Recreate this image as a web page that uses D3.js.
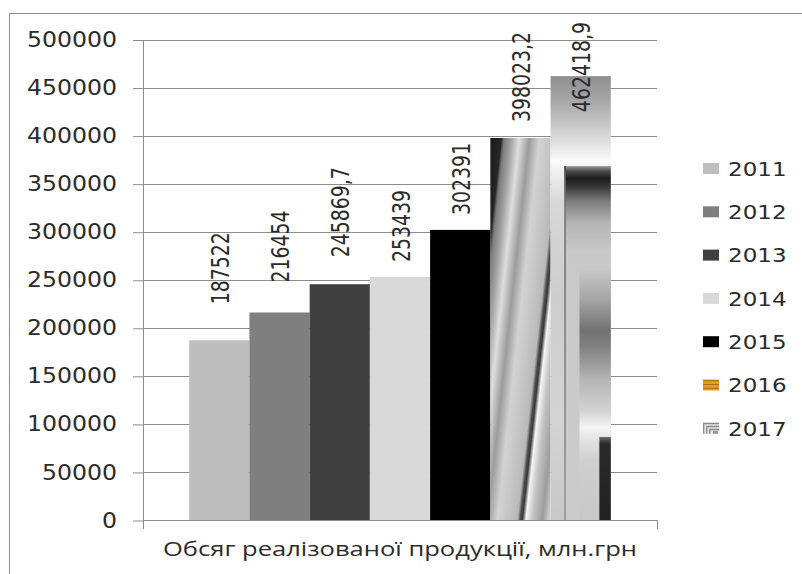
<!DOCTYPE html>
<html>
<head>
<meta charset="utf-8">
<script src="https://cdn.jsdelivr.net/npm/d3@7"></script>
<style>
  html, body { margin: 0; padding: 0; background: #fff; }
  svg { display: block; }
</style>
</head>
<body>
<svg id="chart" width="802" height="574"></svg>
<script>
// ---- data ----
const category = "Обсяг реалізованої продукції, млн.грн";
const years = ["2011", "2012", "2013", "2014", "2015", "2016", "2017"];
const values = [187522, 216454, 245869.7, 253439, 302391, 398023.2, 462418.9];
const yTicks = [0, 50000, 100000, 150000, 200000, 250000, 300000, 350000, 400000, 450000, 500000];

// ---- layout ----
const W = 802, H = 574;
const plot = { left: 143, right: 657, top: 40, bottom: 520.5 };
const stretchX = 1.15;                       // wide text look
const labelGap = [36, 30, 27, 15, 15, 16, 15]; // distance of value labels above bars
const labelTopLimit = 22;
const textColor = "#2b2b2b";
const lineColor = "#8c8c8c";

const svg = d3.select("#chart");
svg.append("rect").attr("width", W).attr("height", H).attr("fill", "#fff");

// outer frame (top and left edges)
svg.append("path")
  .attr("d", "M9.5,574V13.5H802")
  .attr("fill", "none").attr("stroke", lineColor).attr("stroke-width", 1);

const y = d3.scaleLinear().domain([0, 500000]).range([plot.bottom, plot.top]);
const x0 = d3.scaleBand().domain([category]).range([plot.left, plot.right]);
const x = d3.scaleBand().domain(years)
  .range([x0(category), x0(category) + x0.bandwidth()])
  .paddingInner(0).paddingOuter(0.767);

const defs = svg.append("defs");

// ---- fills ----
// 2016: slanted metallic bands
function addSlantGradient(id, bx, y0) {
  const slope = 0.11, span = 102, start = -42;
  const k = span / (1 + slope * slope);
  const g = defs.append("linearGradient").attr("id", id)
    .attr("gradientUnits", "userSpaceOnUse")
    .attr("x1", bx + start).attr("y1", y0)
    .attr("x2", bx + start + k).attr("y2", y0 + k * slope);
  const stops = [
    [-42, "#1a1a1a"], [-31, "#262626"], [-29.5, "#5a5a5a"], [-28, "#7c7c7c"],
    [-21, "#a4a4a4"], [-13, "#dedede"], [-3, "#9c9c9c"], [7, "#d2d2d2"],
    [17, "#c6c6c6"], [27, "#b8b8b8"], [30, "#4a4a4a"], [32, "#3a3a3a"],
    [35.5, "#f6f6f6"], [42, "#c4c4c4"], [52, "#9c9c9c"], [60, "#d8d8d8"]
  ];
  stops.forEach(([r, c]) => g.append("stop")
    .attr("offset", (r - start) / span).attr("stop-color", c));
}

// 2017: layered vertical gradients, given in fractions of the bar box
const tex2017 = [
  { fx0: 0, fx1: 1, fy0: 0, fy1: 1, stops: [
    [0, "#8e8e8e"], [0.054, "#a6a6a6"], [0.144, "#dcdcdc"], [0.19, "#fbfbfb"],
    [0.21, "#f2f2f2"], [0.28, "#d8d8d8"], [0.5, "#cdcdcd"], [0.77, "#d4d4d4"], [1, "#c8c8c8"] ] },
  { fx0: 0.25, fx1: 1, fy0: 0.2025, fy1: 1, stops: [
    [0, "#9a9a9a"], [0.015, "#4a4a4a"], [0.035, "#1c1c1c"], [0.055, "#333333"],
    [0.1, "#7e7e7e"], [0.16, "#b4b4b4"], [0.24, "#c8c8c8"], [1, "#cccccc"] ] },
  { fx0: 0.225, fx1: 0.255, fy0: 0.2025, fy1: 1, stops: [
    [0, "#4a4a4a"], [0.12, "#7a7a7a"], [1, "#9a9a9a"] ] },
  { fx0: 0.48, fx1: 1, fy0: 0.436, fy1: 1, stops: [
    [0, "#c8c8c8"], [0.12, "#a4a4a4"], [0.24, "#727272"], [0.3, "#7e7e7e"],
    [0.44, "#b6b6b6"], [0.56, "#d2d2d2"], [0.63, "#f4f4f4"], [0.66, "#e8e8e8"],
    [0.76, "#cfcfcf"], [1, "#c8c8c8"] ] },
  { fx0: 0.81, fx1: 1, fy0: 0.812, fy1: 1, stops: [
    [0, "#6a6a6a"], [0.08, "#2a2a2a"], [1, "#222222"] ] }
];
tex2017.forEach((t, i) => {
  const g = defs.append("linearGradient").attr("id", "tex2017-" + i)
    .attr("x1", 0).attr("y1", 0).attr("x2", 0).attr("y2", 1);
  t.stops.forEach(([o, c]) => g.append("stop").attr("offset", o).attr("stop-color", c));
});

// legend swatch for 2016: orange stripes
const pat16 = defs.append("pattern").attr("id", "legend2016")
  .attr("patternUnits", "userSpaceOnUse").attr("width", 4).attr("height", 3.7);
pat16.append("rect").attr("width", 4).attr("height", 3.7).attr("fill", "#e6a21c");
pat16.append("rect").attr("y", 2.7).attr("width", 4).attr("height", 1).attr("fill", "#a66d10");

const solidFills = ["#bebebe", "#7f7f7f", "#404040", "#d9d9d9", "#000000"];

// ---- gridlines ----
svg.append("g").selectAll("line")
  .data(yTicks.filter(d => d > 0))
  .join("line")
  .attr("x1", plot.left).attr("x2", plot.right)
  .attr("y1", d => Math.round(y(d)) + 0.5).attr("y2", d => Math.round(y(d)) + 0.5)
  .attr("stroke", lineColor).attr("stroke-width", 1);

// ---- bars ----
const barsG = svg.append("g");
years.forEach((yr, i) => {
  const bx = x(yr), bw = x.bandwidth();
  const top = y(values[i]), h = y(0) - top;
  if (i < 5) {
    barsG.append("rect").attr("x", bx).attr("y", top).attr("width", bw).attr("height", h)
      .attr("fill", solidFills[i]);
  } else if (yr === "2016") {
    addSlantGradient("grad2016", bx, y(0));
    barsG.append("rect").attr("x", bx).attr("y", top).attr("width", bw).attr("height", h)
      .attr("fill", "url(#grad2016)");
  } else {
    const gg = barsG.append("g");
    tex2017.forEach((t, k) => {
      gg.append("rect")
        .attr("x", bx + t.fx0 * bw).attr("width", (t.fx1 - t.fx0) * bw)
        .attr("y", top + t.fy0 * h).attr("height", (t.fy1 - t.fy0) * h)
        .attr("fill", `url(#tex2017-${k})`);
    });
  }
});

// ---- axes ----
const yAxis = d3.axisLeft(y).tickValues(yTicks).tickFormat(d3.format("d"))
  .tickSizeInner(10).tickSizeOuter(0).tickPadding(16);
const yg = svg.append("g").attr("transform", `translate(${plot.left},0)`).call(yAxis);
yg.selectAll("path, line").attr("stroke", lineColor);
yg.selectAll("text")
  .attr("font-family", "'DejaVu Sans', Verdana, sans-serif")
  .attr("font-size", 20.5).attr("fill", textColor);

const xAxis = d3.axisBottom(x0).tickSizeInner(0).tickSizeOuter(9).tickPadding(22);
const xg = svg.append("g").attr("transform", `translate(0,${Math.floor(plot.bottom)})`).call(xAxis);
xg.selectAll("path, line").attr("stroke", lineColor);
xg.selectAll("text")
  .attr("font-family", "'Open Sans', 'DejaVu Sans', sans-serif")
  .attr("font-size", 20).attr("fill", textColor)
  .attr("textLength", 474).attr("lengthAdjust", "spacingAndGlyphs");

// widen horizontal labels
function widen(sel) {
  sel.each(function () {
    const w = this.getComputedTextLength();
    d3.select(this).attr("textLength", w * stretchX).attr("lengthAdjust", "spacingAndGlyphs");
  });
}
widen(yg.selectAll("text"));

// ---- value labels ----
const labelG = svg.append("g");
years.forEach((yr, i) => {
  const cx = x(yr) + x.bandwidth() / 2 + 1;
  const txt = String(values[i]).replace(".", ",");
  const t = labelG.append("text")
    .attr("font-family", "'DejaVu Sans Condensed', 'DejaVu Sans', sans-serif")
    .attr("font-size", 21).attr("fill", textColor)
    .attr("dy", "0.36em")
    .text(txt);
  const len = t.node().getComputedTextLength();
  let bottom = y(values[i]) - labelGap[i];
  if (bottom - len < labelTopLimit) bottom = labelTopLimit + len;
  t.attr("transform", `translate(${cx},${bottom}) scale(${stretchX},1) rotate(-90)`);
});

// ---- legend ----
const legend = svg.append("g");
years.forEach((yr, i) => {
  const cy = 168.5 + i * 43.3;
  const g = legend.append("g").attr("transform", `translate(703,${cy})`);
  if (i < 5) {
    g.append("rect").attr("x", 0).attr("y", -5.5).attr("width", 16).attr("height", 11)
      .attr("fill", solidFills[i]);
  } else if (yr === "2016") {
    g.append("rect").attr("x", 0).attr("y", -5.5).attr("width", 16).attr("height", 11)
      .attr("fill", "url(#legend2016)");
  } else {
    g.append("rect").attr("x", 0).attr("y", -5.5).attr("width", 16).attr("height", 11)
      .attr("fill", "#e4e4e4");
    g.append("path")
      .attr("d", "M0.7,5.5V-4.8H16 M3.7,5.5V-1.8H16 M6.7,5.5V1.2H16")
      .attr("fill", "none").attr("stroke", "#8a8a8a").attr("stroke-width", 1.3);
    g.append("rect").attr("x", 10).attr("y", 2.5).attr("width", 5).attr("height", 3)
      .attr("fill", "#9a9a9a");
  }
  const t = g.append("text").attr("x", 25).attr("dy", "0.36em")
    .attr("font-family", "'DejaVu Sans', Verdana, sans-serif")
    .attr("font-size", 20).attr("fill", textColor).text(yr);
  widen(t);
});
</script>
</body>
</html>
